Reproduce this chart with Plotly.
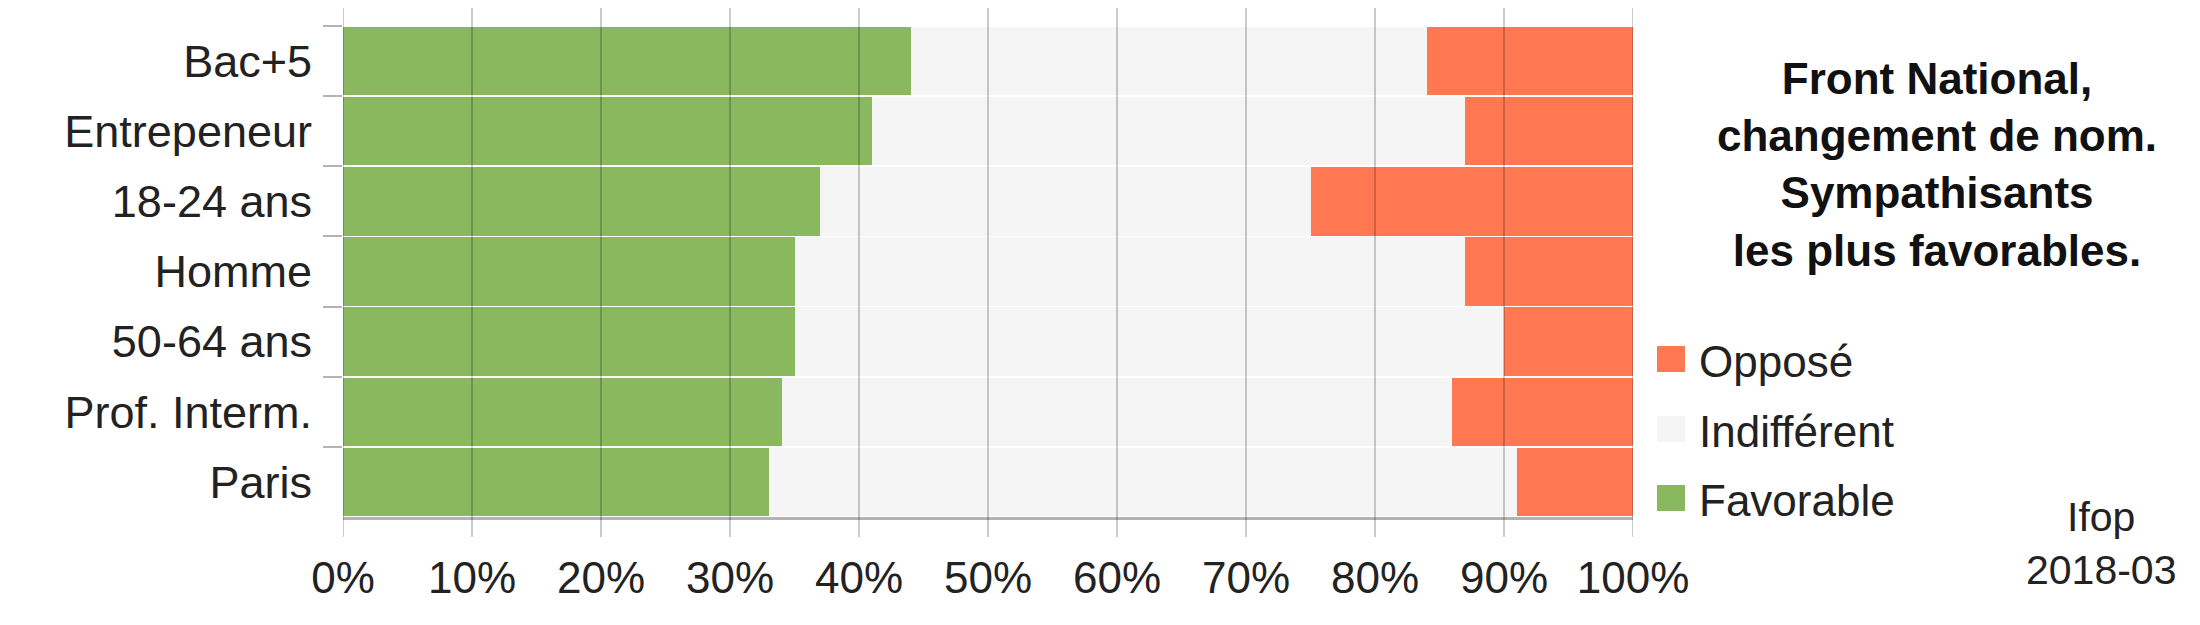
import plotly.graph_objects as go

categories = ["Bac+5", "Entrepeneur", "18-24 ans", "Homme", "50-64 ans", "Prof. Interm.", "Paris"]
favorable = [44, 41, 37, 35, 35, 34, 33]
indifferent = [40, 46, 38, 52, 55, 52, 58]
oppose = [16, 13, 25, 13, 10, 14, 9]
x_ticks = [0, 10, 20, 30, 40, 50, 60, 70, 80, 90, 100]
x_tick_labels = [f"{v}%" for v in x_ticks]

series_names = ["Favorable", "Indifférent", "Opposé"]
series_values = [favorable, indifferent, oppose]
series_colors = ["#89b85f", "#f5f5f5", "#ff7851"]

W, H = 2200, 625
OFF = 8  # page body margin
L, R, T, B = 343 - OFF, 1633 - OFF, 26 - OFF, 517 - OFF
FONT = "Liberation Sans, Arial, sans-serif"


def px_x(p):
    return (p - OFF - L) / (R - L)


def px_y(p):
    return (B - (p - OFF)) / (B - T)


fig = go.Figure()
for name, vals, col in zip(series_names, series_values, series_colors):
    fig.add_trace(go.Bar(
        y=categories, x=vals, name=name, orientation="h",
        marker=dict(color=col, line=dict(width=0)),
        showlegend=False, hoverinfo="x+y+name",
    ))

# vertical grid lines drawn above the bars, extending beyond the plot area
ext = 20 / (B - T)
for v in x_ticks:
    fig.add_shape(type="line", xref="x", yref="paper", x0=v, x1=v,
                  y0=-ext, y1=1 + ext, layer="above",
                  line=dict(color="rgba(0,0,0,0.2)", width=2))

# legend (large square swatches + labels)
legend_rows_px = [359, 429, 498]
for (name, col), yc in zip(zip(series_names[::-1], series_colors[::-1]), legend_rows_px):
    fig.add_shape(type="rect", xref="paper", yref="paper",
                  x0=px_x(1657), x1=px_x(1685), y0=px_y(yc - 13), y1=px_y(yc + 13),
                  fillcolor=col, line=dict(width=0), layer="above")
    fig.add_annotation(text=name, xref="paper", yref="paper",
                       x=px_x(1697), y=px_y(yc + 2), xanchor="left", yanchor="middle",
                       showarrow=False,
                       font=dict(family=FONT, size=44, color="#222222"))

fig.update_layout(
    width=W, height=H,
    margin=dict(l=L, r=W - R, t=T, b=H - B, pad=0, autoexpand=False),
    paper_bgcolor="white", plot_bgcolor="white",
    barmode="stack", bargap=0.025,
    font=dict(family=FONT, size=44, color="#222222"),
    showlegend=False,
    xaxis=dict(
        range=[0, 100], tickvals=x_ticks, ticktext=x_tick_labels,
        showgrid=False, zeroline=False,
        showline=True, linecolor="#b3b3b3", linewidth=3,
        ticks="outside", ticklen=20, tickwidth=2, tickcolor="rgba(0,0,0,0)",
        tickfont=dict(family=FONT, size=44, color="#222222"),
        fixedrange=True,
    ),
    yaxis=dict(
        categoryorder="array", categoryarray=categories, autorange="reversed",
        showgrid=False, zeroline=False, showline=False,
        ticks="outside", tickson="boundaries", ticklen=19, tickwidth=2,
        tickcolor="#b3b3b3",
        tickfont=dict(family=FONT, size=45, color="#222222"),
        ticklabelstandoff=30,
        fixedrange=True,
    ),
)

fig.add_annotation(
    text="<b>Front National,<br>changement de nom.<br>Sympathisants<br>les plus favorables.</b>",
    xref="paper", yref="paper", x=px_x(1937), y=px_y(52),
    xanchor="center", yanchor="top", align="center", showarrow=False,
    font=dict(family=FONT, size=44, color="#111111"),
)
fig.add_annotation(
    text="Ifop<br>2018-03",
    xref="paper", yref="paper", x=px_x(2101), y=px_y(492),
    xanchor="center", yanchor="top", align="center", showarrow=False,
    font=dict(family=FONT, size=41, color="#222222"),
)

fig.write_html("out.html")
